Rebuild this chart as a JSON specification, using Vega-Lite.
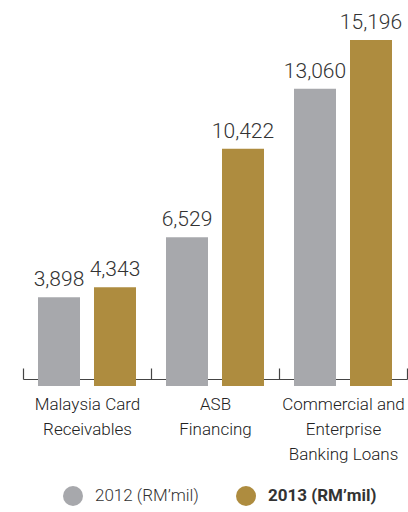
{
  "$schema": "https://vega.github.io/schema/vega-lite/v6.json",
  "width": 384,
  "height": 379,
  "autosize": "none",
  "padding": {"left": 23, "top": 0, "right": 1, "bottom": 133},
  "background": "white",
  "config": {"view": {"stroke": null}, "font": "Roboto"},
  "data": {"values": [
    {"category": "Malaysia Card|Receivables", "year": "2012", "value": 3898},
    {"category": "Malaysia Card|Receivables", "year": "2013", "value": 4343},
    {"category": "ASB|Financing", "year": "2012", "value": 6529},
    {"category": "ASB|Financing", "year": "2013", "value": 10422},
    {"category": "Commercial and|Enterprise|Banking Loans", "year": "2012", "value": 13060},
    {"category": "Commercial and|Enterprise|Banking Loans", "year": "2013", "value": 15196}
  ]},
  "encoding": {
    "x": {
      "field": "category", "type": "nominal", "sort": null, "title": null,
      "scale": {"paddingInner": 0, "paddingOuter": 0},
      "axis": {
        "labelAngle": 0, "tickBand": "extent", "tickSize": -11, "tickColor": "#444", "domainColor": "#444",
        "tickWidth": 1.2, "domainWidth": 1.2,
        "labelExpr": "split(datum.label, '|')", "labelFont": "Roboto", "labelFontSize": 17, "labelFontWeight": 300,
        "labelColor": "#222", "labelLineHeight": 25, "labelPadding": 28, "labelBaseline": "top", "labelLimit": 200
      }
    },
    "xOffset": {"field": "year", "type": "nominal", "scale": {"paddingInner": 0.25, "paddingOuter": 0.268}},
    "y": {
      "field": "value", "type": "quantitative", "title": null,
      "scale": {"domain": [308, 16954], "zero": false, "nice": false},
      "axis": null
    }
  },
  "layer": [
    {
      "mark": {"type": "bar"},
      "encoding": {
        "color": {
          "field": "year", "type": "nominal", "title": null,
          "scale": {"domain": ["2012", "2013"], "range": ["#A7A8AC", "#AE8C3F"]},
          "legend": {
            "orient": "none", "legendX": 40, "legendY": 486, "direction": "horizontal",
            "symbolType": "circle", "symbolSize": 400, "symbolStrokeWidth": 0,
            "labelExpr": "datum.label + ' (RM’mil)'", "labelFontSize": 17, "labelColor": "#333",
            "labelOffset": 12, "columnPadding": 37, "labelLimit": 200,
            "encode": {"labels": {"update": {"fontWeight": {"signal": "datum.value == '2013' ? 'bold' : 300"}}}}
          }
        }
      }
    },
    {
      "mark": {"type": "text", "dy": -11, "baseline": "alphabetic", "fontSize": 21, "fontWeight": 300, "color": "#333"},
      "encoding": {"text": {"field": "value", "type": "quantitative", "format": ",d"}}
    }
  ]
}
